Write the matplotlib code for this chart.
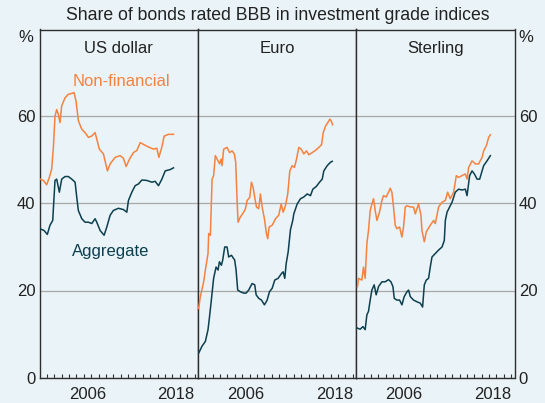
import matplotlib.pyplot as plt

plt.rcParams['font.family'] = ['Liberation Sans', 'DejaVu Sans']

# Share of bonds rated BBB (%)
us_nf_years = [2000.07, 2000.52, 2000.97, 2001.33, 2001.65, 2001.88, 2002.10, 2002.33, 2002.55, 2002.78,
               2003.00, 2003.46, 2003.91, 2004.37, 2004.68, 2004.95, 2005.27, 2005.72, 2006.17, 2006.63,
               2007.08, 2007.53, 2007.76, 2008.11, 2008.66, 2009.20, 2009.57, 2010.24, 2010.92, 2011.37,
               2011.74, 2012.19, 2012.73, 2013.19, 2013.64, 2014.08, 2014.76, 2015.44, 2015.90, 2016.17,
               2016.58, 2016.89, 2017.48, 2018.15]
us_nf_vals = [45.6, 45.3, 44.3, 46.0, 47.9, 52.9, 60.1, 61.6, 60.5, 58.6,
              62.4, 64.3, 65.1, 65.3, 65.5, 63.5, 59.0, 57.1, 56.3, 55.2,
              55.5, 56.3, 54.8, 52.5, 51.4, 47.5, 49.1, 50.6, 51.0, 50.4,
              48.5, 50.2, 51.7, 52.2, 54.0, 53.6, 53.0, 52.5, 52.7, 50.6,
              53.0, 55.5, 55.9, 55.9]

us_agg_years = [2000.07, 2000.61, 2001.06, 2001.42, 2001.79, 2002.10, 2002.33, 2002.69, 2003.01, 2003.46,
                2003.91, 2004.37, 2004.82, 2005.05, 2005.26, 2005.73, 2006.17, 2006.62, 2007.08, 2007.53,
                2007.76, 2008.21, 2008.75, 2009.12, 2009.57, 2010.01, 2010.69, 2011.37, 2011.83, 2012.05,
                2012.51, 2012.96, 2013.41, 2013.87, 2014.55, 2015.22, 2015.67, 2016.12, 2016.58, 2017.03,
                2017.71, 2018.15]
us_agg_vals = [34.2, 33.8, 32.9, 35.0, 36.1, 45.3, 45.6, 42.6, 45.6, 46.2,
               46.2, 45.6, 44.9, 41.4, 38.4, 36.5, 35.7, 35.7, 35.4, 36.5,
               35.7, 33.8, 32.7, 34.6, 37.3, 38.4, 38.9, 38.6, 38.0, 40.7,
               42.6, 44.1, 44.5, 45.4, 45.3, 44.9, 45.1, 44.1, 45.6, 47.5,
               47.8, 48.2]

eu_nf_years = [2000.11, 2000.34, 2000.79, 2001.02, 2001.38, 2001.47, 2001.70, 2001.93, 2002.14, 2002.37,
               2002.61, 2002.96, 2003.15, 2003.28, 2003.50, 2003.96, 2004.31, 2004.64, 2004.95, 2005.13,
               2005.32, 2005.45, 2005.77, 2006.21, 2006.45, 2006.68, 2007.03, 2007.26, 2007.49, 2007.71,
               2007.94, 2008.25, 2008.48, 2008.71, 2009.02, 2009.29, 2009.47, 2009.66, 2010.07, 2010.52,
               2010.96, 2011.29, 2011.56, 2011.87, 2012.18, 2012.46, 2012.78, 2013.09, 2013.37, 2013.68,
               2014.00, 2014.36, 2014.72, 2015.03, 2015.50, 2015.94, 2016.39, 2016.76, 2016.99, 2017.30,
               2017.61, 2017.88, 2018.07, 2018.25]
eu_nf_vals = [15.9, 18.6, 22.0, 24.7, 28.5, 33.1, 32.7, 45.6, 46.4, 51.0,
              50.2, 49.1, 50.2, 48.7, 52.5, 52.9, 51.7, 52.1, 51.4, 49.5,
              40.7, 35.7, 36.9, 38.0, 38.8, 40.7, 41.4, 44.9, 43.7, 41.4,
              39.2, 38.8, 42.2, 39.2, 36.5, 33.1, 31.9, 34.6, 35.0, 36.5,
              37.3, 39.9, 38.0, 39.5, 42.2, 47.5, 48.7, 48.3, 50.2, 52.9,
              52.5, 51.4, 52.1, 51.2, 51.7, 52.2, 52.9, 53.5, 56.3, 57.8,
              58.6, 59.4, 59.0, 58.1]

eu_agg_years = [2000.11, 2000.57, 2001.02, 2001.38, 2001.56, 2001.83, 2002.14, 2002.47, 2002.74, 2002.92,
                2003.19, 2003.37, 2003.64, 2003.96, 2004.18, 2004.55, 2004.99, 2005.18, 2005.40, 2005.77,
                2006.21, 2006.54, 2006.89, 2007.35, 2007.71, 2007.90, 2008.25, 2008.62, 2009.02, 2009.39,
                2009.70, 2010.07, 2010.42, 2010.88, 2011.33, 2011.56, 2011.78, 2011.97, 2012.24, 2012.55,
                2012.86, 2013.00, 2013.46, 2013.91, 2014.36, 2014.82, 2015.26, 2015.58, 2016.04, 2016.49,
                2016.85, 2017.07, 2017.53, 2017.98, 2018.21]
eu_agg_vals = [5.6, 7.2, 8.3, 11.0, 13.6, 17.8, 22.8, 25.4, 24.7, 26.6,
               25.8, 27.0, 30.0, 30.0, 27.7, 28.1, 27.0, 24.7, 20.1, 19.7,
               19.4, 19.4, 20.1, 21.6, 21.3, 19.0, 18.2, 17.8, 16.7, 17.8,
               19.7, 20.5, 22.4, 22.8, 23.9, 24.3, 22.8, 26.2, 28.9, 34.0,
               36.1, 37.6, 39.9, 41.1, 41.5, 42.2, 41.8, 43.3, 43.9, 44.9,
               45.6, 47.5, 48.7, 49.5, 49.7]

gb_nf_years = [2000.18, 2000.31, 2000.77, 2000.99, 2001.22, 2001.45, 2001.67, 2001.90, 2002.13, 2002.35,
               2002.58, 2002.81, 2003.16, 2003.49, 2003.70, 2004.07, 2004.38, 2004.61, 2004.84, 2005.06,
               2005.29, 2005.52, 2005.88, 2006.20, 2006.42, 2006.65, 2006.88, 2007.33, 2007.77, 2008.01,
               2008.45, 2008.78, 2008.91, 2009.23, 2009.50, 2010.04, 2010.49, 2010.72, 2011.17, 2011.63,
               2012.08, 2012.39, 2012.75, 2013.20, 2013.57, 2013.88, 2014.34, 2014.79, 2015.02, 2015.24,
               2015.70, 2016.15, 2016.59, 2017.06, 2017.27, 2017.64, 2017.95, 2018.18]
gb_nf_vals = [20.9, 22.8, 22.4, 25.4, 22.8, 30.8, 33.8, 38.4, 39.9, 41.1,
              38.4, 36.1, 38.0, 40.7, 41.8, 41.5, 42.6, 43.5, 42.6, 39.2,
              35.0, 34.2, 34.6, 32.3, 34.6, 39.2, 39.5, 39.2, 39.2, 37.6,
              39.9, 37.3, 33.8, 31.2, 33.5, 35.0, 36.1, 35.4, 39.2, 40.3,
              40.7, 42.6, 41.1, 42.6, 46.4, 46.0, 46.4, 46.8, 45.6, 48.3,
              49.8, 49.1, 49.1, 50.6, 52.1, 53.3, 55.2, 55.8]

gb_agg_years = [2000.09, 2000.54, 2000.91, 2001.22, 2001.45, 2001.67, 2001.90, 2002.13, 2002.44, 2002.71,
                2003.03, 2003.49, 2003.93, 2004.38, 2004.71, 2004.98, 2005.16, 2005.52, 2005.88, 2006.20,
                2006.51, 2006.88, 2007.10, 2007.33, 2007.77, 2008.24, 2008.68, 2009.00, 2009.23, 2009.50,
                2009.81, 2010.04, 2010.27, 2010.72, 2011.17, 2011.63, 2011.94, 2012.08, 2012.31, 2012.66,
                2012.99, 2013.43, 2013.88, 2014.34, 2014.79, 2015.02, 2015.37, 2015.70, 2016.01, 2016.38,
                2016.73, 2017.06, 2017.27, 2017.73, 2018.18]
gb_agg_vals = [11.4, 11.1, 11.7, 11.0, 14.4, 15.2, 17.8, 20.1, 21.3, 19.0,
               20.9, 22.0, 22.0, 22.5, 22.0, 20.9, 18.2, 17.8, 17.8, 16.7,
               18.6, 19.7, 20.1, 18.6, 17.8, 17.4, 17.1, 16.2, 21.3, 22.4,
               22.8, 25.4, 27.7, 28.5, 29.3, 30.0, 31.5, 36.1, 38.0, 39.2,
               40.3, 42.6, 43.3, 43.1, 43.3, 41.8, 46.4, 47.5, 46.8, 45.6,
               45.6, 47.5, 48.7, 49.8, 51.0]

panels = ['US dollar', 'Euro', 'Sterling']
series = [(us_nf_years, us_nf_vals, us_agg_years, us_agg_vals),
          (eu_nf_years, eu_nf_vals, eu_agg_years, eu_agg_vals),
          (gb_nf_years, gb_nf_vals, gb_agg_years, gb_agg_vals)]
y_ticks = [0, 20, 40, 60]
year_labels = ['2006', '2018']

bg = '#eaf3f7'
orange = '#f5823f'
teal = '#0c3f4f'
grid_c = '#a8a8a8'
edge_c = '#2e2e2e'

W, H = 545, 403
fig = plt.figure(figsize=(W / 100, H / 100), dpi=100, facecolor=bg)

left, right, top, bottom = 39.5, 514.5, 29.5, 377.5
pw = (right - left) / 3

for i, name in enumerate(panels):
    ax = fig.add_axes([(left + i * pw) / W, 1 - bottom / H, pw / W, (bottom - top) / H])
    ax.set_facecolor(bg)
    nf_x, nf_y, agg_x, agg_y = series[i]
    ax.plot(nf_x, nf_y, color=orange, lw=1.1, zorder=3)
    ax.plot(agg_x, agg_y, color=teal, lw=1.1, zorder=3)

    ax.set_xlim(2000, 2021.45)
    ax.set_ylim(0, 80)
    ax.set_yticks(y_ticks)
    ax.grid(axis='y', color=grid_c, lw=0.9)
    ax.set_axisbelow(True)
    ax.tick_params(axis='y', length=0, labelsize=12, pad=3,
                   labelleft=(i == 0), labelright=(i == 2), colors='#222222')

    ax.set_xticks([int(l) + 0.5 for l in year_labels])
    ax.set_xticklabels(year_labels)
    ax.set_xticks(range(2001, 2022), minor=True)
    ax.tick_params(axis='x', which='major', length=0, labelsize=12, pad=7, colors='#222222')
    ax.tick_params(axis='x', which='minor', direction='in', length=3.2, width=0.8, color=edge_c)

    for s in ax.spines.values():
        s.set_color(edge_c)
        s.set_linewidth(1.0)

    ax.text(0.5, 0.944, name, transform=ax.transAxes, ha='center', va='center', fontsize=12, color='#222222')

    if i == 0:
        ax.text(2011.06, 68.1, 'Non-financial', color=orange, fontsize=12, ha='center', va='center')
        ax.text(2009.66, 29.0, 'Aggregate', color=teal, fontsize=12, ha='center', va='center')

fig.text(278 / W, 1 - 15.5 / H, 'Share of bonds rated BBB in investment grade indices',
         ha='center', va='center', fontsize=12.7, color='#222222')
fig.text(26 / W, 1 - 37 / H, '%', ha='center', va='center', fontsize=12, color='#222222')
fig.text(526 / W, 1 - 37 / H, '%', ha='center', va='center', fontsize=12, color='#222222')

fig.savefig('out.png', dpi=100, facecolor=bg)
